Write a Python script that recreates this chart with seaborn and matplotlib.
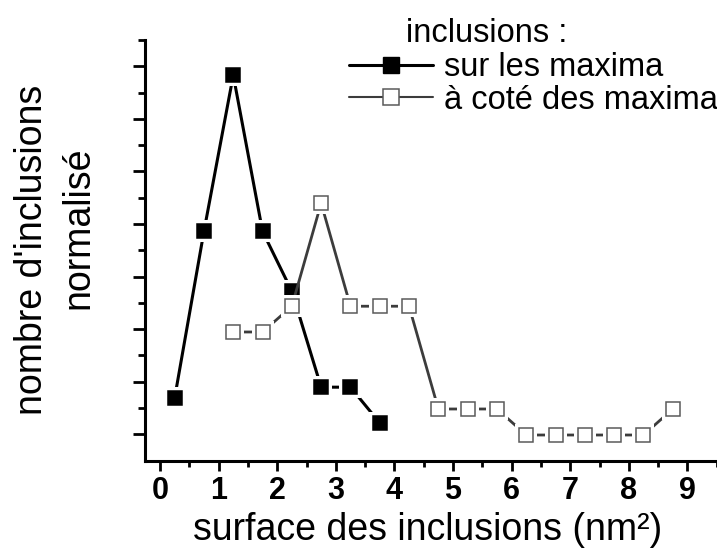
import matplotlib
matplotlib.use("Agg")
import matplotlib.pyplot as plt
from matplotlib.lines import Line2D
from matplotlib.ticker import FixedLocator
import seaborn as sns

# Inclusion size histogram (bin centres in nm^2, normalised counts)
surface_on = [0.25, 0.75, 1.25, 1.75, 2.25, 2.75, 3.25, 3.75]
count_on = [2.38, 8.72, 14.66, 8.72, 6.44, 2.79, 2.79, 1.43]

surface_beside = [1.25, 1.75, 2.25, 2.75, 3.25, 3.75, 4.25, 4.75,
                  5.25, 5.75, 6.25, 6.75, 7.25, 7.75, 8.25, 8.75]
count_beside = [4.89, 4.89, 5.87, 9.79, 5.87, 5.87, 5.87, 1.96,
                1.96, 1.96, 0.97, 0.97, 0.97, 0.97, 0.97, 1.96]

x_ticks = [0, 1, 2, 3, 4, 5, 6, 7, 8, 9]
x_tick_labels = ["0", "1", "2", "3", "4", "5", "6", "7", "8", "9"]
series_labels = ["sur les maxima", "à coté des maxima"]
legend_header = "inclusions :"
x_label = "surface des inclusions (nm²)"
y_label_lines = ["nombre d'inclusions", "normalisé"]

sns.set_style("ticks")
plt.rcParams["font.family"] = ["Liberation Sans", "DejaVu Sans"]
plt.rcParams.update({
    "text.color": "black",
    "axes.labelcolor": "black",
    "xtick.color": "black",
    "ytick.color": "black",
    "axes.edgecolor": "black",
})

W, H = 717, 548
fig = plt.figure(figsize=(W / 100, H / 100), dpi=100)
ax = fig.add_axes([145 / W, 87.5 / H, 572 / W, 420.5 / H])

BLACK = "#000000"
GREY_LINE = "#3c3c3c"
GREY_EDGE = "#5a5a5a"


def draw_series(x, y, line_color, lw, face, edge):
    # connecting line, with white pads so the segments stop short of the symbols
    sns.lineplot(x=x, y=y, ax=ax, color=line_color, lw=lw, marker="s",
                 markersize=16.5, markerfacecolor="white",
                 markeredgecolor="white", markeredgewidth=0, legend=False)
    # the symbols themselves
    sns.lineplot(x=x, y=y, ax=ax, linestyle="none", marker="s",
                 markersize=10, markerfacecolor=face, markeredgecolor=edge,
                 markeredgewidth=1.1, legend=False)


draw_series(surface_on, count_on, BLACK, 2.2, BLACK, BLACK)
draw_series(surface_beside, count_beside, GREY_LINE, 2.0, "white", GREY_EDGE)

ax.set_xlim(-0.256, 9.505)
ax.set_ylim(0, 16)

ax.set_xticks(x_ticks, labels=x_tick_labels, fontsize=22, fontweight="bold")
ax.xaxis.set_minor_locator(FixedLocator([v + 0.5 for v in x_ticks]))
ax.yaxis.set_major_locator(FixedLocator(list(range(1, 16, 2))))
ax.yaxis.set_minor_locator(FixedLocator(list(range(2, 17, 2))))

ax.tick_params(axis="x", which="major", length=7, width=2, direction="out",
               pad=4, colors="black")
ax.tick_params(axis="x", which="minor", length=4, width=2, direction="out")
ax.tick_params(axis="y", which="major", length=8.5, width=2, direction="out",
               labelleft=False)
ax.tick_params(axis="y", which="minor", length=5, width=2, direction="out")

for side in ("top", "right"):
    ax.spines[side].set_visible(False)
for side in ("left", "bottom"):
    ax.spines[side].set_linewidth(2.2)
    ax.spines[side].set_color("black")

ax.set_xlabel(x_label, fontsize=27)
ax.xaxis.label.set_va("baseline")
ax.xaxis.set_label_coords((427.5 - 145) / 572, (460.5 - 539.5) / 420.5)
ax.set_ylabel("")

# two-line axis title on the left
fig.text(42 / W, 1 - 250 / H, y_label_lines[0], rotation=90,
         rotation_mode="anchor", ha="center", va="baseline", fontsize=27)
fig.text(88 / W, 1 - 228 / H, y_label_lines[1], rotation=90,
         rotation_mode="anchor", ha="center", va="baseline", fontsize=27)

# legend
handles = [
    Line2D([], [], color=BLACK, lw=2.2, marker="s", markersize=11,
           markerfacecolor=BLACK, markeredgecolor=BLACK),
    Line2D([], [], color=GREY_LINE, lw=1.5, marker="s", markersize=11,
           markerfacecolor="white", markeredgecolor=GREY_EDGE,
           markeredgewidth=1.1),
]
fig.text(406 / W, 1 - 42 / H, legend_header, ha="left", va="baseline",
         fontsize=23.5)
fig.legend(handles, series_labels, loc="upper left",
           bbox_to_anchor=(349 / W, 1 - 52 / H), frameon=False,
           fontsize=23.5, handlelength=2.58, handletextpad=0.34,
           borderpad=0, borderaxespad=0, labelspacing=0.05)

fig.savefig("out.png", dpi=100)
